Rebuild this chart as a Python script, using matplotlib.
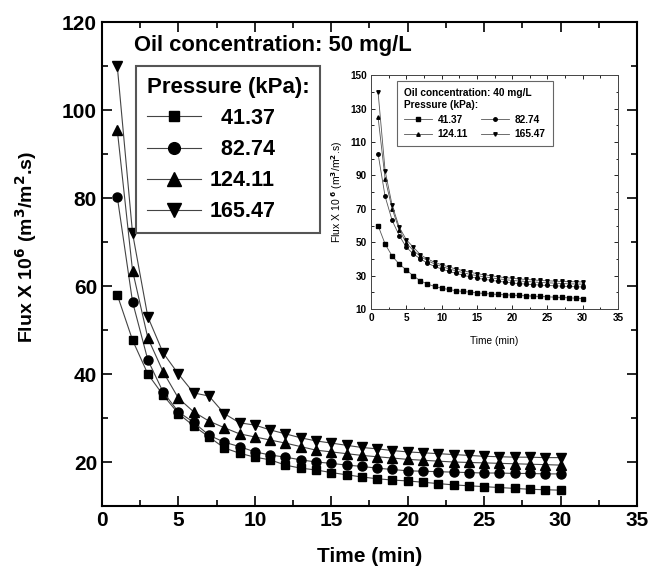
import numpy as np
import matplotlib
matplotlib.use('Agg')
from matplotlib import pyplot as plt
from matplotlib.ticker import MultipleLocator, FixedLocator

plt.rcParams['font.family'] = ['Liberation Sans', 'DejaVu Sans']
plt.rcParams['font.weight'] = 'bold'
plt.rcParams['mathtext.default'] = 'bf'

# main chart, 50 mg/L
time = list(range(1, 31))
labels = ['  41.37', '  82.74', '124.11', '165.47']
flux_4137 = [58, 47.7, 40, 35.2, 31, 28.2, 25.7, 23.2, 22, 21.1, 20.5, 19.3, 18.6, 18.2, 17.6,
             17.1, 16.6, 16.2, 15.9, 15.7, 15.4, 15.1, 14.8, 14.6, 14.4, 14.2, 14.0, 13.8, 13.7, 13.6]
flux_8274 = [80.3, 56.4, 43.2, 35.9, 31.4, 29, 26.1, 24.5, 23.5, 22.3, 21.6, 21.1, 20.5, 20, 19.7,
             19.3, 19, 18.6, 18.3, 18, 17.9, 17.8, 17.7, 17.6, 17.5, 17.5, 17.4, 17.4, 17.3, 17.3]
flux_12411 = [95.5, 63.5, 48.2, 40.5, 34.5, 31.4, 29.3, 27.8, 26.4, 25.7, 25, 24.3, 23.5, 22.7, 22.3,
              21.9, 21.5, 21.2, 20.9, 20.6, 20.4, 20.2, 20, 19.9, 19.8, 19.7, 19.6, 19.5, 19.4, 19.3]
flux_16547 = [110, 72, 53, 44.8, 40, 35.7, 35, 31, 28.9, 28.4, 27.3, 26.4, 25.5, 24.8, 24.3,
              23.8, 23.3, 23, 22.6, 22.3, 22.1, 21.9, 21.7, 21.5, 21.3, 21.2, 21.1, 21.1, 21, 21]

# inset, 40 mg/L
in_4137 = [60, 48.9, 41.7, 36.9, 33.4, 29.8, 26.9, 25, 23.5, 22.5, 21.7, 21, 20.5, 20.1, 19.7,
           19.3, 19, 18.7, 18.5, 18.3, 18.1, 17.9, 17.7, 17.5, 17.3, 17.1, 16.9, 16.7, 16.5, 16.3]
in_8274 = [103, 77.4, 63, 54, 47, 43, 40, 37.5, 35.5, 34, 32.6, 31.4, 30.3, 29.3, 28.5,
           27.8, 27.2, 26.6, 26.1, 25.6, 25.2, 24.9, 24.6, 24.3, 24.1, 23.9, 23.7, 23.5, 23.3, 23.2]
in_12411 = [125, 88, 70, 57.5, 49.5, 45, 41.5, 39, 37, 35.5, 34.1, 32.9, 31.8, 30.8, 30,
            29.3, 28.7, 28.1, 27.6, 27.1, 26.8, 26.5, 26.2, 25.9, 25.7, 25.5, 25.3, 25.1, 25, 24.9]
in_16547 = [140, 92.8, 72, 59, 51.5, 47, 42.5, 40, 38, 36.5, 35.2, 34, 33, 32, 31.2,
            30.5, 29.9, 29.3, 28.8, 28.4, 28, 27.7, 27.4, 27.1, 26.9, 26.7, 26.5, 26.4, 26.3, 26.2]
in_yticks = [10, 30, 50, 70, 90, 110, 130, 150]

markers = ['s', 'o', '^', 'v']
msizes = [6, 6.5, 7.5, 7.5]

fig = plt.figure(figsize=(6.52, 5.76), dpi=100)
ax = fig.add_axes([0.1564, 0.1215, 0.8206, 0.8403])

for ys, m, s, lab in zip([flux_4137, flux_8274, flux_12411, flux_16547], markers, msizes, labels):
    ax.plot(time, ys, color='#444444', lw=0.8, marker=m, ms=s,
            mfc='black', mec='black', label=lab)

ax.set_xlim(0, 35)
ax.set_ylim(10, 120)
ax.xaxis.set_major_locator(MultipleLocator(5))
ax.xaxis.set_minor_locator(MultipleLocator(2.5))
ax.yaxis.set_major_locator(MultipleLocator(20))
ax.yaxis.set_minor_locator(MultipleLocator(10))
ax.tick_params(which='both', direction='in', top=True, right=True, labelsize=15, width=1.2)
ax.tick_params(which='major', length=7)
ax.tick_params(which='minor', length=4)
ax.set_yticks([20, 40, 60, 80, 100, 120])
for s in ax.spines.values():
    s.set_linewidth(1.5)
ax.set_xlabel('Time (min)', fontsize=15, fontweight='bold', labelpad=12)
ax.set_ylabel(r'Flux X 10$^6$ (m$^3$/m$^2$.s)', fontsize=14, fontweight='bold')
ax.yaxis.set_label_coords(-0.118, 0.535)

ax.text(0.06, 0.952, 'Oil concentration: 50 mg/L', transform=ax.transAxes,
        fontsize=15.8, fontweight='bold', va='center', ha='left')
leg = ax.legend(loc='upper left', bbox_to_anchor=(0.0636, 0.909), borderaxespad=0,
                title='Pressure (kPa):', fontsize=15.5, title_fontsize=16,
                handlelength=2.5, labelspacing=0.47, fancybox=False, markerscale=1.3,
                edgecolor='#555555', framealpha=1, alignment='left', borderpad=0.5,
                handletextpad=0.4)
leg.get_frame().set_linewidth(1.5)
leg.get_title().set_fontweight('bold')

# inset
axi = fig.add_axes([0.569, 0.4635, 0.379, 0.406])
lines = []
for ys, m, lab in zip([in_4137, in_8274, in_12411, in_16547], markers, labels):
    l, = axi.plot(time, ys, color='#555555', lw=0.6, marker=m, ms=2.5,
                  mfc='black', mec='black', label=lab.strip())
    lines.append(l)
axi.set_xlim(0, 35)
axi.set_ylim(10, 150)
axi.xaxis.set_major_locator(MultipleLocator(5))
axi.xaxis.set_minor_locator(MultipleLocator(2.5))
axi.yaxis.set_major_locator(FixedLocator(in_yticks))
axi.yaxis.set_minor_locator(FixedLocator([v + 10 for v in in_yticks[:-1]]))
axi.tick_params(which='both', direction='in', top=True, right=True, labelsize=7.2, width=0.6, pad=3)
axi.tick_params(which='major', length=3)
axi.tick_params(which='minor', length=1.8)
for s in axi.spines.values():
    s.set_linewidth(0.7)
    s.set_color('#444444')
axi.set_xlabel('Time (min)', fontsize=7.3, labelpad=9)
axi.set_ylabel(r'Flux X 10$^{\ 6}$ (m$^3$/m$^2$.s)', fontsize=7.5, labelpad=4)
order = [0, 2, 1, 3]
li = axi.legend([lines[i] for i in order], [lines[i].get_label() for i in order],
                loc='upper left', bbox_to_anchor=(0.105, 0.974), borderaxespad=0, ncol=2,
                title='Oil concentration: 40 mg/L\nPressure (kPa):', fontsize=7.3,
                title_fontsize=7.3, handlelength=2.8, labelspacing=0.45, columnspacing=1.3,
                fancybox=False, edgecolor='#666666', framealpha=1, alignment='left',
                handletextpad=0.5, borderpad=0.7)
li.get_frame().set_linewidth(0.8)

fig.savefig('out.png', dpi=100)
